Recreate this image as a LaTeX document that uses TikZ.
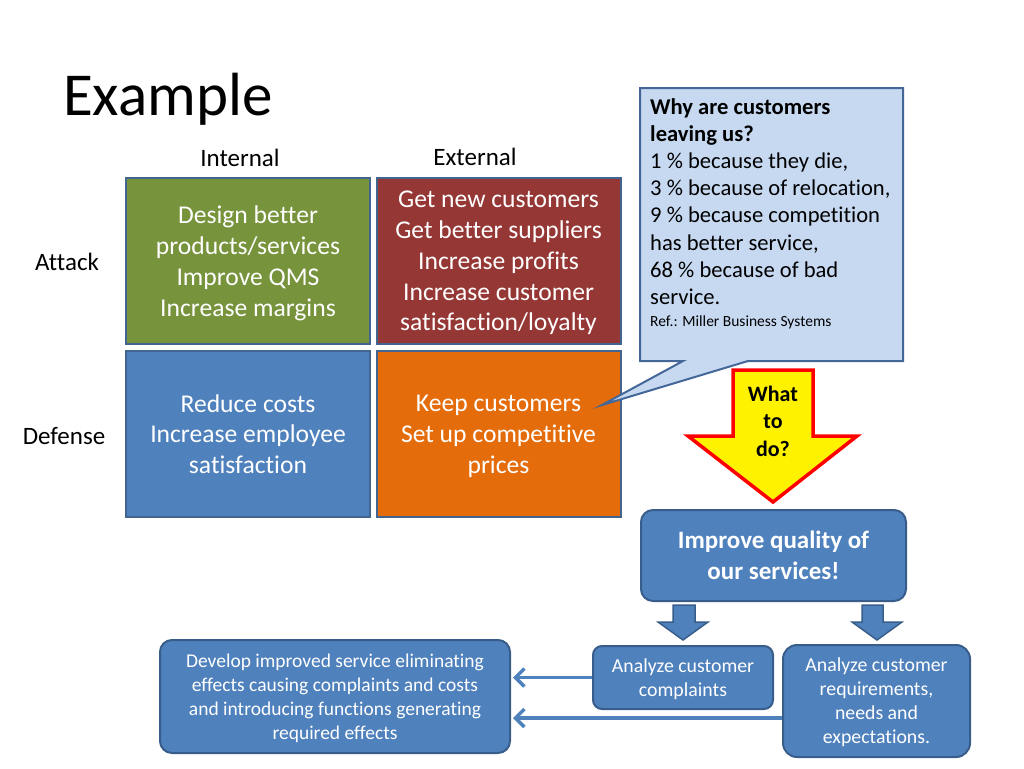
\documentclass[tikz,border=0pt]{standalone}
\usepackage{fontspec}
\setmainfont{Carlito}[Ligatures=NoCommon]
\usepackage{xcolor}
\usetikzlibrary{arrows.meta}

\definecolor{grncell}{HTML}{77933C}
\definecolor{redcell}{HTML}{953735}
\definecolor{bluecell}{HTML}{4F81BD}
\definecolor{orgcell}{HTML}{E46C0A}
\definecolor{cellline}{HTML}{41658F}
\definecolor{boxline}{HTML}{385D8A}
\definecolor{bubblefill}{HTML}{C6D9F1}
\definecolor{bubbleline}{HTML}{44679A}

\begin{document}
\begin{tikzpicture}[x=1pt,y=-1pt,
  cell/.style={draw=cellline,line width=2pt,minimum width=244pt,minimum height=166pt,
    text=white,align=center,text depth=0pt,font=\fontsize{25.6}{30.8}\selectfont},
  lbl/.style={font=\fontsize{25}{30}\selectfont},
  bluebox/.style={draw=boxline,fill=bluecell,line width=2pt,text=white,align=center,text depth=0pt},
  flow/.style={draw=bluecell,line width=3.5pt,shorten >=2pt,-{Straight Barb[length=9pt,width=18pt]}},
  blockarrow/.style={fill=bluecell,draw=boxline,line width=1.5pt}]
\useasboundingbox (0,0) rectangle (1024,768);

\node[anchor=base west,inner sep=0pt,font=\fontsize{61}{70}\selectfont] (title) at (63,115) {Example};

\node[lbl] (internal) at (240,158) {Internal};
\node[lbl] (external) at (475,157) {External};
\node[lbl] (attack) at (67,262) {Attack};
\node[lbl] (defense) at (64,436) {Defense};

% the four fields
\node[cell,fill=grncell] (intatk) at (248,261) {Design better\\products/services\\Improve QMS\\Increase margins};
\node[cell,fill=redcell] (extatk) at (498.5,261) {Get new customers\\Get better suppliers\\Increase profits\\Increase customer\\satisfaction/loyalty};
\node[cell,fill=bluecell] (intdef) at (248,434) {Reduce costs\\Increase employee\\satisfaction};
\node[cell,fill=orgcell] (extdef) at (498.5,434) {Keep customers\\Set up competitive\\prices};

% callout
\draw[fill=bubblefill,draw=bubbleline,line width=2pt] (640,88) -- (903,88) -- (903,361)
  -- (748,361) -- (602,405) -- (683,361) -- (640,361) -- cycle;
\node[anchor=north west,align=left,inner sep=0pt,font=\fontsize{22.6}{27.2}\selectfont] (why) at (650,98)
  {\textbf{Why are customers}\\\textbf{leaving us?}\\1 \% because they die,\\3 \% because of relocation,\\
   9 \% because competition\\has better service,\\68 \% because of bad\\service.};
\node[anchor=base west,inner sep=0pt,font=\fontsize{15.5}{18}\selectfont] (ref) at (650,326) {Ref.: Miller Business Systems};

% what to do
\draw[fill=yellow,draw=red,line width=3.5pt,line join=miter] (733,370) -- (813,370) -- (813,436) -- (857,436)
  -- (773,502) -- (688,436) -- (733,436) -- cycle;
\node[align=center,font=\bfseries\fontsize{22}{27.5}\selectfont] (what) at (773,421) {What\\to\\do?};

\node[bluebox,rounded corners=12pt,minimum width=265pt,minimum height=91pt,
  font=\bfseries\fontsize{25}{31}\selectfont] (improve) at (773.5,555.5) {Improve quality of\\our services!};

\draw[blockarrow] (673,605) -- (695,605) -- (695,622) -- (708,622) -- (683,640) -- (658,622) -- (673,622) -- cycle;
\draw[blockarrow] (862,605) -- (883,605) -- (883,622) -- (902,622) -- (877,640) -- (852,622) -- (862,622) -- cycle;

\node[bluebox,rounded corners=9pt,minimum width=180pt,minimum height=63pt,
  font=\fontsize{19.8}{24}\selectfont] (compl) at (683,677.5) {Analyze customer\\complaints};
\node[bluebox,rounded corners=14pt,minimum width=187pt,minimum height=112pt,
  font=\fontsize{19.8}{24}\selectfont] (req) at (876.5,701) {Analyze customer\\requirements,\\needs and\\expectations.};
\node[bluebox,rounded corners=12pt,minimum width=350pt,minimum height=113pt,
  font=\fontsize{19.5}{24}\selectfont] (dev) at (335,696.5)
  {Develop improved service eliminating\\effects causing complaints and costs\\and introducing functions generating\\required effects};

\coordinate (reqout) at ([yshift=-17pt]req.west);
\draw[flow] (compl.west) -- (dev.east |- compl.west);
\draw[flow] (reqout) -- (dev.east |- reqout);
\end{tikzpicture}
\end{document}
